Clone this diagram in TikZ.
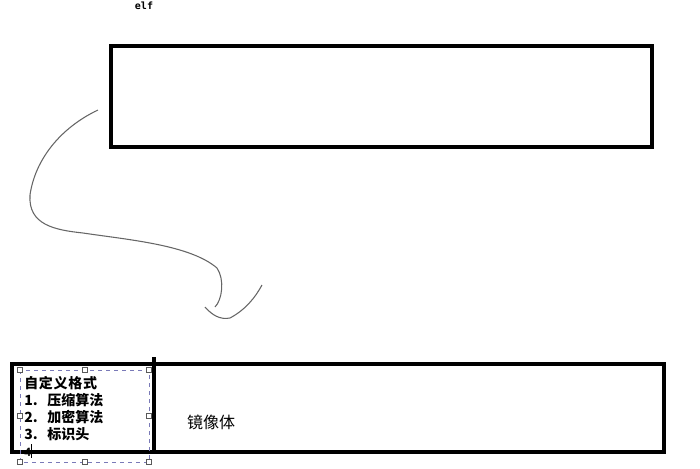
\documentclass[tikz,border=0pt]{standalone}
\usepackage{fontspec}
\newfontfamily\cjk{Noto Sans CJK SC}
\newfontfamily\elffont{DejaVu Sans Mono}
\setmainfont{Liberation Sans}
\begin{document}
\begin{tikzpicture}[x=0.75pt,y=-0.75pt,
  thickbox/.style={draw=black,line width=3pt},
  handle/.style={draw=gray!70!black,fill=white,line width=0.4pt,minimum size=4pt,inner sep=0pt},
  pen/.style={draw=gray!80!black,line width=0.8pt},
  lbl/.style={font=\cjk\bfseries\fontsize{10.5}{12}\selectfont,anchor=west,inner sep=0pt}]
\useasboundingbox (0,0) rectangle (700,468);
\node[font=\elffont\bfseries\fontsize{7.5}{8}\selectfont,inner sep=0pt] (elf) at (144,6) {elf};
\node[thickbox,minimum width=541*0.75pt,minimum height=101*0.75pt,inner sep=0pt] (top) at (381.5,96.5) {};
% curve strokes
\draw[pen] (98,110) .. controls (60,128) and (35,160) .. (30,195)
  .. controls (28,225) and (55,230) .. (83,233)
  .. controls (130,240) and (190,245) .. (217,268)
  .. controls (225,280) and (222,300) .. (215,307);
\draw[pen] (205,307) .. controls (212,315) and (220,320) .. (230,318)
  .. controls (245,310) and (255,298) .. (262,285);
% bottom box
\node[thickbox,minimum width=652*0.75pt,minimum height=88*0.75pt,inner sep=0pt] (bot) at (338,408) {};
\coordinate (dt) at (154,357);
\coordinate (db) at (154,452);
\draw[line width=3pt] (dt) -- (db);
% selection box
\coordinate (s1) at (20,370);
\coordinate (s2) at (149,462);
\draw[dashed,draw=blue!30!gray!80,line width=0.5pt] (s1) rectangle (s2);
\foreach \hx/\hy [count=\i] in {20/370,85/370,149/370,20/416,149/416,20/462,85/462,149/462}
  \node[handle] (h\i) at (\hx,\hy) {};
\node[lbl] (t0) at (24,383) {自\hspace{0.05em}定\hspace{0.05em}义\hspace{0.05em}格\hspace{0.05em}式};
\node[lbl] (t1) at (24,400) {1.\hspace{0.7em}压缩算法};
\node[lbl] (t2) at (24,417) {2.\hspace{0.7em}加密算法};
\node[lbl] (t3) at (24,434) {3.\hspace{0.7em}标识头};
\node[lbl,font=\bfseries\fontsize{9}{10}\selectfont] (t4) at (24,452) {4};
\draw[line width=0.5pt] (31,444) -- (31,458);
\node[font=\cjk\fontsize{12}{14}\selectfont,inner sep=0pt] (img) at (211,422) {镜像体};
\end{tikzpicture}
\end{document}
